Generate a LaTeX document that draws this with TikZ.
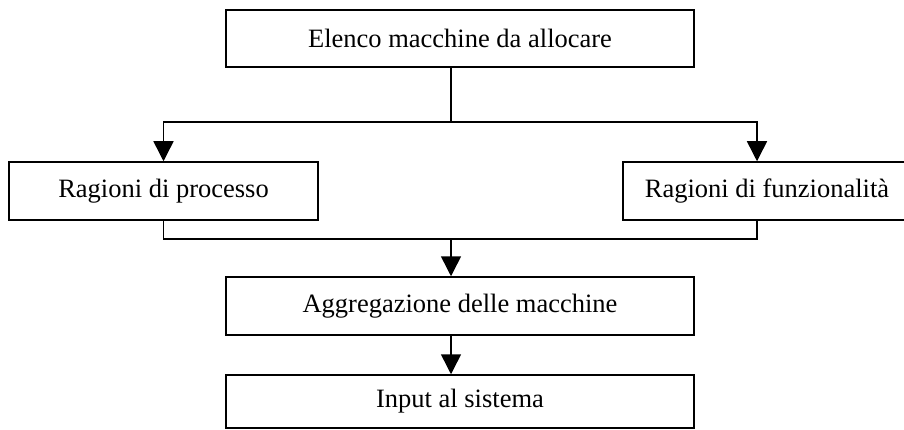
\documentclass[tikz,border=0pt]{standalone}
\usepackage{fontspec}
\setmainfont{Liberation Serif}
\usetikzlibrary{arrows.meta}
\tikzset{
  stepbox/.style={draw=black, line width=1.5pt, rectangle, inner sep=0pt,
    font=\fontsize{26.5}{31}\selectfont, align=center},
  link/.style={draw=black, line width=1.5pt},
  flow/.style={link, -{Triangle[length=20pt,width=20pt]}}
}
\begin{document}
\begin{tikzpicture}[x=1pt, y=-1pt]
  \clip (0,0) rectangle (904,430);
  \fill[white] (0,0) rectangle (904,430);

  % boxes
  \node[stepbox, minimum width=468pt, minimum height=57pt] (elenco) at (460,38.5) {Elenco macchine da allocare};
  \node[stepbox, minimum width=309pt, minimum height=58pt] (processo) at (163.5,191) {Ragioni di processo};
  \node[stepbox, minimum width=288pt, minimum height=58pt] (funz) at (767,191) {Ragioni di funzionalità};
  \node[stepbox, minimum width=468pt, minimum height=58pt] (aggr) at (460,306) {Aggregazione delle macchine};
  \node[stepbox, minimum width=468pt, minimum height=53pt] (input) at (460,401.5) {Input al sistema};

  % junction points of the connectors
  \coordinate (split) at (451,122);
  \coordinate (splitR) at (757,122);
  \coordinate (join) at (451,239);
  \coordinate (joinR) at (757,239);

  % split towards the two criteria
  \draw[link] (elenco.south -| split) -- (split);
  \draw[flow] (split) -| (processo.north);
  \draw[flow] (split) -- (splitR) -- (splitR |- funz.north);

  % merge into the aggregation step
  \draw[link] (processo.south) |- (join);
  \draw[link] (funz.south -| joinR) -- (joinR) -- (join);
  \draw[flow] (join) -- (join |- aggr.north);
  \draw[flow] (aggr.south -| join) -- (input.north -| join);
\end{tikzpicture}
\end{document}
